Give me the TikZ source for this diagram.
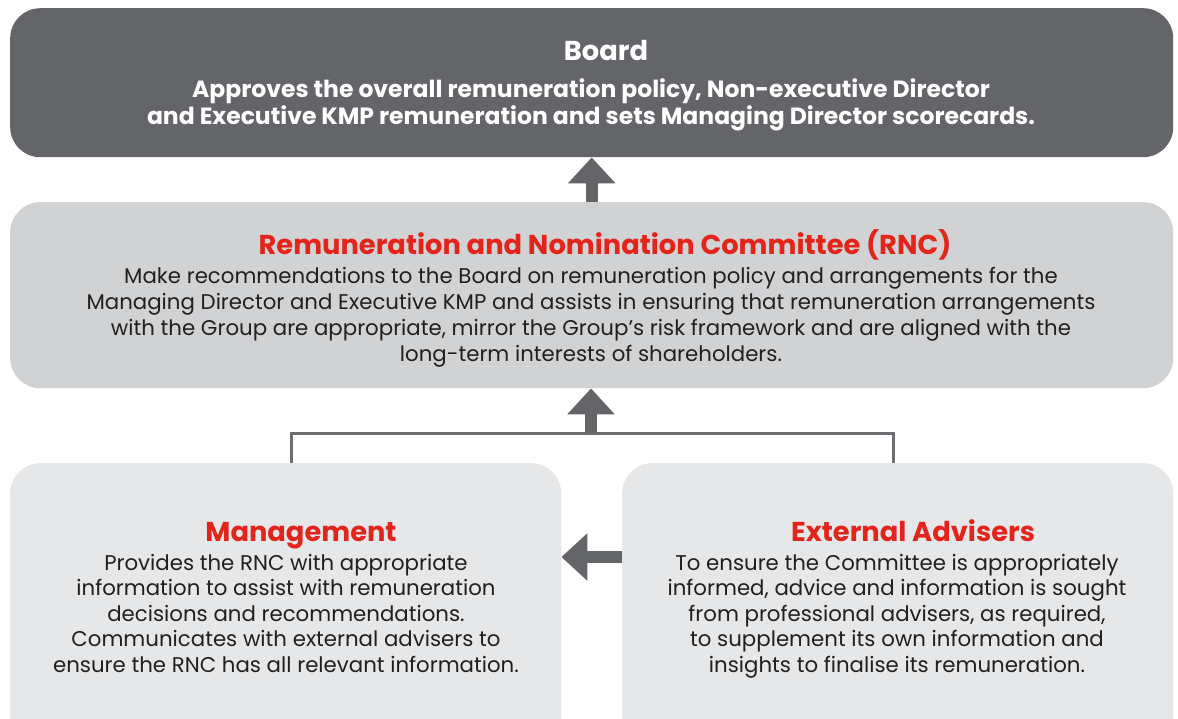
\documentclass[tikz,border=0pt]{standalone}
\usepackage{fontspec}
\setmainfont{Poppins}
\usepackage{xcolor}
\usetikzlibrary{arrows.meta,positioning,calc}
\definecolor{charcoal}{HTML}{646569}
\definecolor{silver}{HTML}{D1D2D4}
\definecolor{fog}{HTML}{E6E7E8}
\definecolor{signal}{HTML}{E3241B}
\definecolor{ink}{HTML}{231F20}
\definecolor{wire}{HTML}{6D6E71}
\tikzset{
  panel/.style={rounded corners=30pt,draw=none,inner sep=0pt,anchor=north west},
  paneld/.style={panel,fill=charcoal},
  panelm/.style={panel,fill=silver},
  panell/.style={panel,fill=fog},
  head/.style={font=\fontsize{27.3}{30}\selectfont\bfseries\color{signal},inner sep=0pt,anchor=base},
  headw/.style={head,color=white},
  body/.style={font=\fontsize{21.3}{25.4}\selectfont\color{ink},align=center,inner sep=0pt,anchor=base},
  bodyw/.style={body,font=\fontsize{23.5}{27}\selectfont\bfseries\color{white}},
  fat/.style={-{Triangle[length=26pt,width=46pt]},line width=12pt,color=charcoal},
  wirel/.style={line width=3pt,color=wire},
}

\begin{document}
\begin{tikzpicture}[x=1pt,y=-1pt]
\clip (0,0) rectangle (1178,719);
\fill[white] (0,0) rectangle (1178,719);
% the four panels
\node[paneld,minimum width=1163pt,minimum height=149pt] (board) at (10,8) {};
\node[panelm,minimum width=1163pt,minimum height=186pt] (rnc) at (10,202) {};
\node[panell,minimum width=551pt,minimum height=300pt] (mgmt) at (10,463) {};
\node[panell,minimum width=551pt,minimum height=300pt] (ext) at (622,463) {};
% texts (multi-line bodies sit on their last baseline)
\node[headw] (boardt) at (606,61) {Board};
\node[bodyw] (boardb) at (591,125) {Approves the overall remuneration policy, Non-executive Director\\and Executive KMP remuneration and sets Managing Director scorecards.};
\node[head] (rnct) at (605,255) {Remuneration and Nomination Committee (RNC)};
\node[body,font=\fontsize{21.3}{25.7}\selectfont\color{ink}] (rncb) at (591,361) {Make recommendations to the Board on remuneration policy and arrangements for the\\Managing Director and Executive KMP and assists in ensuring that remuneration arrangements\\with the Group are appropriate, mirror the Group’s risk framework and are aligned with the\\long-term interests of shareholders.};
\node[head] (mgmtt) at (301,541) {Management};
\node[body] (mgmtb) at (286,672) {Provides the RNC with appropriate\\information to assist with remuneration\\decisions and recommendations.\\Communicates with external advisers to\\ensure the RNC has all relevant information.};
\node[head] (extt) at (913,541) {External Advisers};
\node[body] (extb) at (897,672) {To ensure the Committee is appropriately\\informed, advice and information is sought\\from professional advisers, as required,\\to supplement its own information and\\insights to finalise its remuneration.};
% connectors
\coordinate (join) at (591,433);
\draw[wirel] ([xshift=5.5pt]mgmt.north) |- (join) -| ([xshift=-4.5pt]ext.north);
\draw[fat] (join) -- (join |- rnc.south);
\draw[fat] (rnc.north -| board.south) -- (board.south);
\draw[fat] (ext.west |- 0,557) -- (mgmt.east |- 0,557);
\end{tikzpicture}
\end{document}
